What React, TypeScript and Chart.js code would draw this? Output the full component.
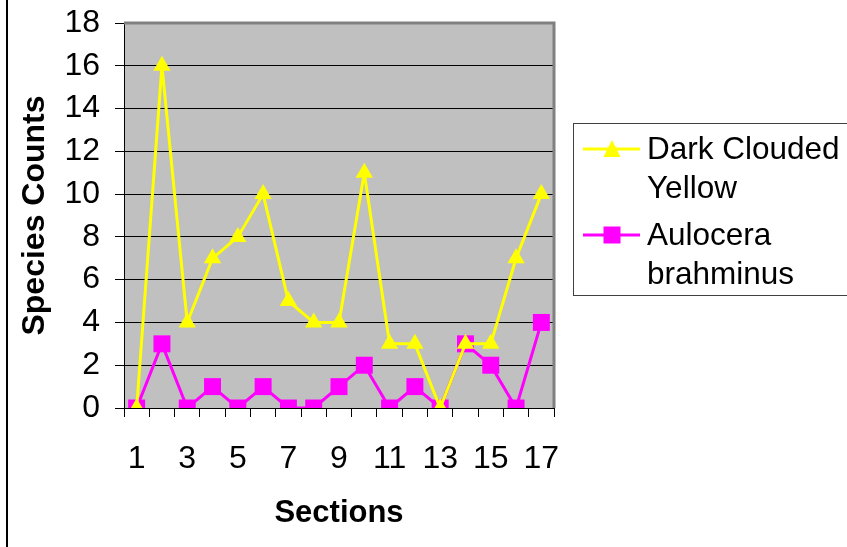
import React, { useEffect, useRef } from 'react';
import { Chart, registerables } from 'chart.js';

Chart.register(...registerables);

const sections = ['1', '2', '3', '4', '5', '6', '7', '8', '9', '10', '11', '12', '13', '14', '15', '16', '17'];
const darkCloudedYellow = [0, 16, 4, 7, 8, 10, 5, 4, 4, 11, 3, 3, 0, 3, 3, 7, 10];
const aulocera = [0, 3, 0, 1, 0, 1, 0, 0, 1, 2, 0, 1, 0, 3, 2, 0, 4];
const legendYellow = ['Dark Clouded', 'Yellow'];
const legendAulocera = ['Aulocera', 'brahminus'];
const yTitle = 'Species Counts';
const xTitle = 'Sections';

const FONT = "'Liberation Sans', Arial, sans-serif";

const decorPlugin = {
  id: 'decor',
  beforeDraw(chart: any) {
    const { ctx, chartArea } = chart;
    ctx.save();
    ctx.fillStyle = '#ffffff';
    ctx.fillRect(0, 0, chart.width, chart.height);
    ctx.fillStyle = '#C0C0C0';
    ctx.fillRect(chartArea.left, chartArea.top, chartArea.right - chartArea.left, chartArea.bottom - chartArea.top);
    ctx.fillStyle = '#000000';
    ctx.fillRect(6, 0, 2, chart.height);
    ctx.restore();
  },
  beforeDatasetsDraw(chart: any) {
    const { ctx, chartArea } = chart;
    ctx.save();
    ctx.strokeStyle = '#808080';
    ctx.lineWidth = 3;
    ctx.beginPath();
    ctx.moveTo(chartArea.left, chartArea.top);
    ctx.lineTo(chartArea.right, chartArea.top);
    ctx.lineTo(chartArea.right, chartArea.bottom);
    ctx.stroke();
    ctx.restore();
  },
  afterDraw(chart: any) {
    const { ctx } = chart;
    ctx.save();
    ctx.strokeStyle = '#404040';
    ctx.lineWidth = 1;
    ctx.strokeRect(573.5, 123.5, 300, 172);
    const entries = [
      { lines: legendYellow, color: '#FFFF00', shape: 'triangle', y: 149 },
      { lines: legendAulocera, color: '#FF00FF', shape: 'rect', y: 235 },
    ];
    ctx.font = `31.5px ${FONT}`;
    ctx.textBaseline = 'middle';
    ctx.textAlign = 'left';
    for (const e of entries) {
      ctx.strokeStyle = e.color;
      ctx.lineWidth = 3;
      ctx.beginPath();
      ctx.moveTo(583, e.y);
      ctx.lineTo(640, e.y);
      ctx.stroke();
      ctx.fillStyle = e.color;
      const cx = 612;
      if (e.shape === 'triangle') {
        ctx.beginPath();
        ctx.moveTo(cx, e.y - 9);
        ctx.lineTo(cx + 8.5, e.y + 8);
        ctx.lineTo(cx - 8.5, e.y + 8);
        ctx.closePath();
        ctx.fill();
      } else {
        ctx.fillRect(cx - 8.5, e.y - 8.5, 17, 17);
      }
      ctx.fillStyle = '#000000';
      e.lines.forEach((t, i) => ctx.fillText(t, 647, e.y + 1 + i * 39));
    }
    ctx.restore();
  },
};

export default function App() {
  const ref = useRef<HTMLCanvasElement>(null);
  useEffect(() => {
    if (!ref.current) return;
    const chart = new Chart(ref.current, {
      type: 'line',
      data: {
        labels: sections,
        datasets: [
          {
            label: legendYellow.join(' '),
            data: darkCloudedYellow,
            borderColor: '#FFFF00',
            backgroundColor: '#FFFF00',
            borderWidth: 3,
            pointStyle: 'triangle',
            pointRadius: 10,
            pointBorderWidth: 0,
            tension: 0,
          },
          {
            label: legendAulocera.join(' '),
            data: aulocera,
            borderColor: '#FF00FF',
            backgroundColor: '#FF00FF',
            borderWidth: 3,
            pointStyle: 'rect',
            pointRadius: 12,
            pointBorderWidth: 0,
            tension: 0,
          },
        ],
      },
      options: {
        animation: false,
        responsive: false,
        layout: { padding: { left: 0, top: 23, right: 293, bottom: 0 } },
        plugins: { legend: { display: false }, tooltip: { enabled: false } },
        scales: {
          x: {
            offset: true,
            grid: { offset: true, drawOnChartArea: false, drawTicks: true, tickLength: 9, color: '#000000', lineWidth: 1 },
            border: { color: '#000000', width: 1 },
            ticks: {
              autoSkip: false,
              maxRotation: 0,
              padding: 23,
              color: '#000000',
              font: { family: FONT, size: 32 },
              callback: (_v: any, i: number) => (i % 2 === 0 ? sections[i] : ''),
            },
            title: {
              display: true,
              text: xTitle,
              color: '#000000',
              font: { family: FONT, size: 31, weight: 'bold' },
              padding: { top: 0, bottom: 15 },
            },
            afterFit: (s: any) => {
              s.height = 139;
              s.paddingLeft = 0;
              s.paddingRight = 0;
            },
          },
          y: {
            min: 0,
            max: 18,
            ticks: {
              stepSize: 2,
              padding: 15,
              color: '#000000',
              font: { family: FONT, size: 32 },
            },
            grid: { color: '#000000', lineWidth: 1, tickLength: 9, drawTicks: true },
            border: { color: '#000000', width: 1 },
            title: {
              display: true,
              text: yTitle,
              color: '#000000',
              font: { family: FONT, size: 32, weight: 'bold' },
              padding: { top: 16, bottom: 0 },
            },
            afterFit: (s: any) => {
              s.width = 124;
              s.paddingTop = 0;
              s.paddingBottom = 0;
            },
          },
        },
      },
      plugins: [decorPlugin],
    });
    return () => chart.destroy();
  }, []);
  return (
    <div style={{ position: 'fixed', left: 0, top: 0, width: 847, height: 547 }}>
      <canvas ref={ref} width={847} height={547} />
    </div>
  );
}
